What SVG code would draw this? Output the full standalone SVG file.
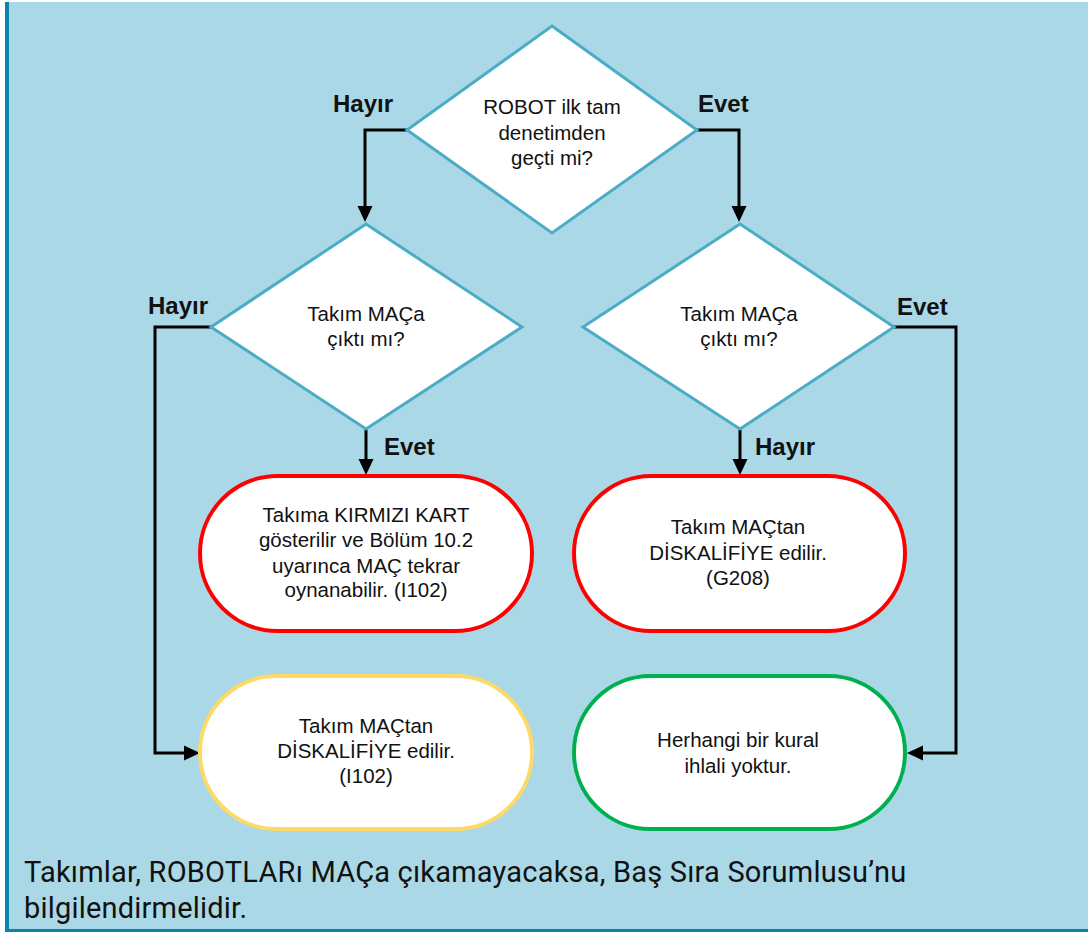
<svg xmlns="http://www.w3.org/2000/svg" width="1088" height="932" viewBox="0 0 1088 932">
<defs>
<marker id="arr" markerUnits="userSpaceOnUse" markerWidth="16" markerHeight="16" refX="8" refY="8" orient="auto">
<path d="M0,0.5 L16,8 L0,15.5 z" fill="#000"/>
</marker>
<style>
.dia{fill:#fff;stroke:#4BACC6;stroke-width:3;stroke-linejoin:miter}
.pill{fill:#fff;stroke-width:4}
.red{stroke:#FF0000}
.yel{stroke:#FFD966}
.grn{stroke:#00B050}
.t{font-family:"Liberation Sans",Arial,sans-serif;font-size:20.5px;fill:#111;text-anchor:middle}
.lbl{font-family:"Liberation Sans",Arial,sans-serif;font-size:24px;font-weight:bold;fill:#111}
.con{fill:none;stroke:#000;stroke-width:3;marker-end:url(#arr)}
.foot{font-family:Roboto,"Liberation Sans",sans-serif;font-size:29px;letter-spacing:0.2px;fill:#111}
</style>
</defs>
<rect x="0" y="0" width="1088" height="932" fill="#fff"/>
<rect x="5" y="2" width="1083" height="930" fill="#ABD8E6"/>
<rect x="5" y="2" width="4" height="930" fill="#0A84AA"/>
<rect x="5" y="929" width="1083" height="3" fill="#0A84AA"/>

<g id="connectors">
<path class="con" d="M407,130 H365 V214"/>
<path class="con" d="M697,130 H739 V214"/>
<path class="con" d="M366,429 V467"/>
<path class="con" d="M740,429 V467"/>
<path class="con" d="M211,327 H155 V753 H192"/>
<path class="con" d="M894,327 H956 V753 H915"/>
<text class="lbl" x="333" y="112">Hayır</text>
<text class="lbl" x="698" y="112">Evet</text>
<text class="lbl" x="148" y="314">Hayır</text>
<text class="lbl" x="384" y="455">Evet</text>
<text class="lbl" x="897" y="315">Evet</text>
<text class="lbl" x="755" y="455">Hayır</text>
</g>

<g id="d1">
<polygon class="dia" points="552,26 697,130 552,233 407,130"/>
<text class="t" x="552" y="114">ROBOT ilk tam</text>
<text class="t" x="552" y="140">denetimden</text>
<text class="t" x="552" y="165">geçti mi?</text>
</g>

<g id="d2">
<polygon class="dia" points="366,224 522,327 366,429 211,327"/>
<text class="t" x="366" y="321">Takım MAÇa</text>
<text class="t" x="366" y="346">çıktı mı?</text>
</g>

<g id="d3">
<polygon class="dia" points="740,224 894,327 740,429 583,327"/>
<text class="t" x="739" y="321">Takım MAÇa</text>
<text class="t" x="739" y="346">çıktı mı?</text>
</g>

<g id="r1">
<rect class="pill red" x="200" y="476" width="332" height="155" rx="77.5"/>
<text class="t" x="366" y="522">Takıma KIRMIZI KART</text>
<text class="t" x="366" y="547">gösterilir ve Bölüm 10.2</text>
<text class="t" x="366" y="573">uyarınca MAÇ tekrar</text>
<text class="t" x="366" y="597">oynanabilir. (I102)</text>
</g>

<g id="r2">
<rect class="pill red" x="574" y="476" width="331" height="155" rx="77.5"/>
<text class="t" x="738" y="534">Takım MAÇtan</text>
<text class="t" x="738" y="560">DİSKALİFİYE edilir.</text>
<text class="t" x="738" y="585">(G208)</text>
</g>

<g id="y1">
<rect class="pill yel" x="200" y="676" width="332" height="153" rx="76.5"/>
<text class="t" x="366" y="733">Takım MAÇtan</text>
<text class="t" x="366" y="758">DİSKALİFİYE edilir.</text>
<text class="t" x="366" y="783">(I102)</text>
</g>

<g id="g1">
<rect class="pill grn" x="574" y="676" width="331" height="153" rx="76.5"/>
<text class="t" x="738" y="747">Herhangi bir kural</text>
<text class="t" x="738" y="773">ihlali yoktur.</text>
</g>

<g id="footer">
<text class="foot" x="24" y="882">Takımlar, ROBOTLARı MAÇa çıkamayacaksa, Baş Sıra Sorumlusu’nu</text>
<text class="foot" x="24" y="918">bilgilendirmelidir.</text>
</g>
</svg>
